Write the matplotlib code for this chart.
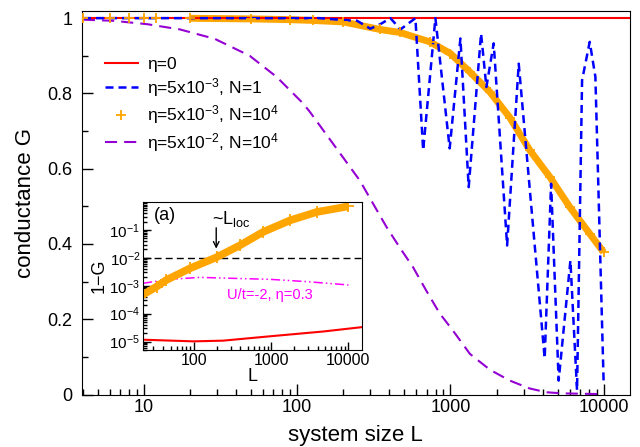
import numpy as np
import matplotlib
matplotlib.use('Agg')
import matplotlib.pyplot as plt
from matplotlib.ticker import FixedLocator, LogLocator, NullFormatter, FuncFormatter, MultipleLocator
from matplotlib.lines import Line2D

plt.rcParams['font.family'] = ['Liberation Sans', 'DejaVu Sans']
plt.rcParams['mathtext.fontset'] = 'custom'
plt.rcParams['mathtext.rm'] = 'Liberation Sans'
plt.rcParams['mathtext.default'] = 'regular'

# main panel: conductance G versus system size L
L_red = [4, 14800]
G_red = [1.0, 1.0]

L_blue = [4, 140, 200, 246, 300, 349, 406, 472, 591, 664, 798, 989, 1162, 1316,
          1585, 1717, 1916, 2344, 2791, 4121, 4539, 5085, 6067, 6703, 7230, 8110,
          8830, 10000]
G_blue = [1.0, 1.0, 0.995, 0.993, 0.972, 0.984, 1.0, 0.97, 1.0, 0.649, 1.0, 0.654,
          0.946, 0.551, 0.959, 0.817, 0.933, 0.396, 0.879, 0.096, 0.56, 0.037,
          0.356, 0.011, 0.835, 0.937, 0.844, 0.029]

L_orange = [4, 6, 8, 10, 12, 20, 50, 90, 126, 200, 346, 468, 735, 1000, 1340, 1808,
            2440, 3296, 4455, 6010, 8120, 10000]
G_orange = [0.9999, 0.9999, 0.9999, 0.9998, 0.9998, 0.9996, 0.998, 0.996, 0.994,
            0.99, 0.97, 0.962, 0.937, 0.906, 0.857, 0.804, 0.736, 0.649, 0.578,
            0.498, 0.427, 0.378]

L_purple = [4, 6.3, 10.5, 17.2, 29, 49, 73.4, 109, 121, 176, 256, 312, 383, 468, 569,
            698, 853, 1038, 1340, 1808, 2440, 3296, 4234, 5410, 10000]
G_purple = [0.996, 0.993, 0.984, 0.97, 0.945, 0.9, 0.844, 0.774, 0.751, 0.66, 0.569,
            0.508, 0.445, 0.39, 0.339, 0.275, 0.215, 0.17, 0.108, 0.066, 0.037,
            0.016, 0.006, 0.003, 0.001]

# inset: 1-G on log scale
Li_red = [22, 98, 238, 970, 4730, 15000]
Gi_red = [1.17e-5, 1.02e-5, 1.08e-5, 1.55e-5, 2.3e-5, 3.3e-5]

Li_orange = [20, 33, 44, 89, 197, 394, 790, 1754, 3890, 10000]
Gi_orange = [4.1e-4, 9.3e-4, 1.6e-3, 4.2e-3, 1.05e-2, 0.028, 0.085, 0.22, 0.44, 0.7]

Li_mag = [22, 49, 120, 294, 970, 2880, 10000]
Gi_mag = [1.23e-3, 1.7e-3, 2.0e-3, 1.86e-3, 1.7e-3, 1.41e-3, 1.07e-3]

orange = '#ffa500'

fig = plt.figure(figsize=(6.4, 4.47), dpi=100)
ax = fig.add_axes([0.128, 0.1174, 0.856, 0.858])

ax.plot(L_red, G_red, color='#ff0000', lw=1.5, zorder=4)
ax.plot(L_purple, G_purple, color='#9400d3', lw=1.5, dashes=(5.8, 3.4), zorder=2)
# dense band of crosses, drawn as a thick line where the points crowd together
ax.plot(L_orange[5:], G_orange[5:], color=orange, lw=5, zorder=3, solid_capstyle='butt')
ax.plot(L_blue, G_blue, color='#0000ff', lw=1.8, dashes=(3.2, 2), zorder=4)
ax.plot(L_orange, G_orange, ls='none', marker='+', ms=7, mew=1.3, color=orange, zorder=5)

ax.set_xscale('log')
ax.set_xlim(3.94, 14800)
ax.set_ylim(0, 1.019)
ax.xaxis.set_major_locator(FixedLocator([10, 100, 1000, 10000]))
ax.xaxis.set_major_formatter(FuncFormatter(lambda v, p: '%g' % v))
ax.xaxis.set_minor_locator(LogLocator(base=10, subs=np.arange(2, 10)))
ax.xaxis.set_minor_formatter(NullFormatter())
ax.yaxis.set_major_locator(MultipleLocator(0.2))
ax.yaxis.set_minor_locator(MultipleLocator(0.1))
ax.yaxis.set_major_formatter(FuncFormatter(lambda v, p: '%g' % round(v, 2)))
ax.tick_params(which='both', direction='in', top=False, right=False, width=1)
ax.tick_params(which='major', length=8, labelsize=13)
ax.tick_params(axis='y', pad=7)
ax.tick_params(which='minor', length=4)
ax.set_xlabel('system size L', fontsize=16, labelpad=6)
ax.set_ylabel('conductance G', fontsize=16, labelpad=8)

handles = [
    Line2D([], [], color='#ff0000', lw=1.5),
    Line2D([], [], color='#0000ff', lw=1.8, dashes=(3.2, 2)),
    Line2D([], [], ls='none', marker='+', ms=7, mew=1.3, color=orange),
    Line2D([], [], color='#9400d3', lw=1.5, dashes=(5.8, 3.4)),
]
labels = ['η=0', 'η=5x10$^{-3}$, N=1', 'η=5x10$^{-3}$, N=10$^{4}$',
          'η=5x10$^{-2}$, N=10$^{4}$']
ax.legend(handles, labels, loc='upper left', bbox_to_anchor=(0.042, 0.881),
          frameon=False, fontsize=12.5, borderpad=0, borderaxespad=0,
          handlelength=1.9, handletextpad=0.5, labelspacing=0.25)

# inset
axi = fig.add_axes([0.2234, 0.217, 0.3422, 0.331])
axi.set_facecolor('white')
axi.plot(Li_red, Gi_red, color='#ff0000', lw=1.5)
axi.plot(Li_mag, Gi_mag, color='#ff00ff', lw=1.1, dashes=(6, 2, 1, 2, 1, 2))
axi.axhline(1e-2, color='black', lw=1, dashes=(5, 3))
axi.plot(Li_orange, Gi_orange, color=orange, lw=5.5, solid_capstyle='butt')
axi.plot(Li_orange, Gi_orange, ls='none', marker='+', ms=8, mew=1.3, color=orange)
axi.set_xscale('log')
axi.set_yscale('log')
axi.set_xlim(22, 15000)
axi.set_ylim(5e-6, 1)
axi.xaxis.set_major_locator(FixedLocator([100, 1000, 10000]))
axi.xaxis.set_major_formatter(FuncFormatter(lambda v, p: '%g' % v))
axi.xaxis.set_minor_locator(LogLocator(base=10, subs=np.arange(2, 10)))
axi.xaxis.set_minor_formatter(NullFormatter())
axi.yaxis.set_major_locator(FixedLocator([1e-5, 1e-4, 1e-3, 1e-2, 1e-1]))
axi.yaxis.set_major_formatter(FuncFormatter(lambda v, p: '10$^{%d}$' % round(np.log10(v))))
axi.yaxis.set_minor_locator(LogLocator(base=10, subs=np.arange(2, 10), numticks=20))
axi.yaxis.set_minor_formatter(NullFormatter())
axi.tick_params(which='both', direction='in', top=False, right=False, width=1)
axi.tick_params(which='major', length=6, pad=2)
axi.tick_params(which='minor', length=3)
axi.tick_params(axis='x', labelsize=11.5)
axi.tick_params(axis='y', labelsize=11)
axi.set_xlabel('L', fontsize=13, labelpad=0)
axi.set_ylabel('1−G', fontsize=13, labelpad=1)

axi.text(0.05, 0.91, '(a)', transform=axi.transAxes, fontsize=13, va='center')
axi.text(303, 0.24, '~L$_{loc}$', fontsize=13, ha='center', va='center')
axi.annotate('', xy=(195, 0.017), xytext=(195, 0.15),
             arrowprops=dict(arrowstyle='->', color='black', lw=1))
axi.text(970, 4.5e-4, 'U/t=-2, η=0.3', color='#ff00ff', fontsize=10.5,
         ha='center', va='center')

fig.savefig('out.png', dpi=100)
